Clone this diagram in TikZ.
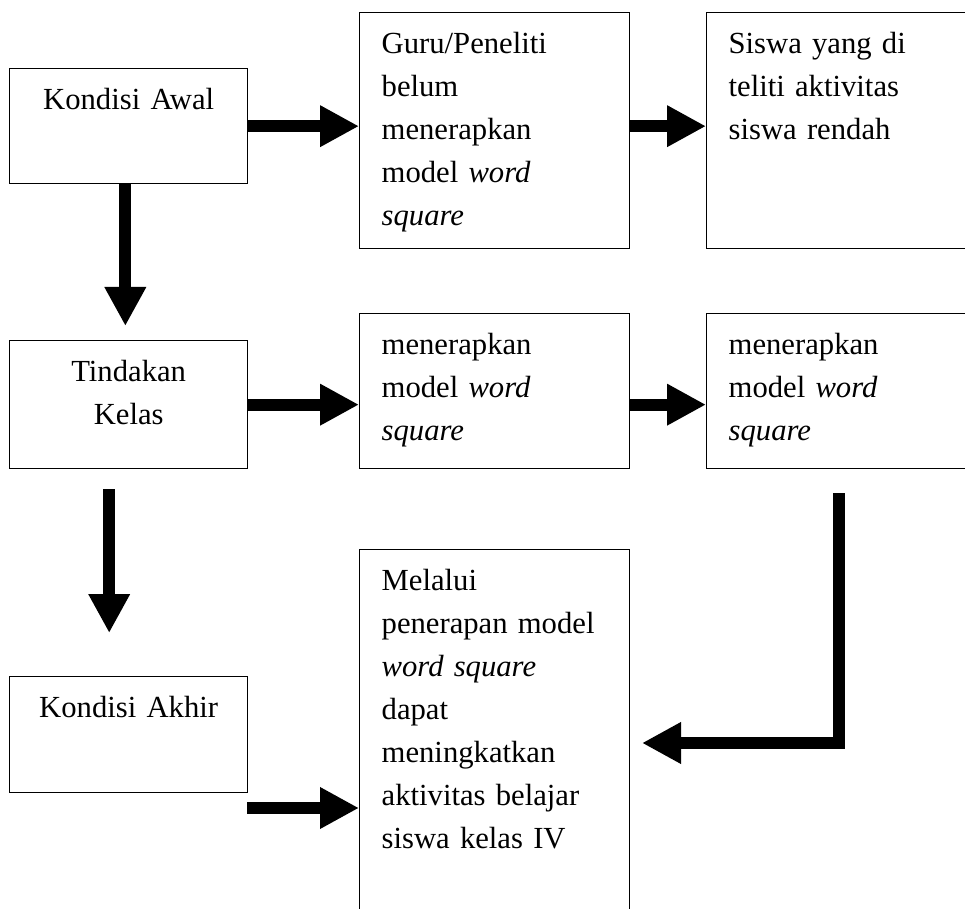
\documentclass[tikz,border=0pt]{standalone}
\usepackage{fontspec}
\setmainfont{Liberation Serif}
\usepackage{tikz}
\usetikzlibrary{arrows.meta}
\tikzset{box/.style = {draw, line width = 1pt, anchor = north west, inner xsep = 16.5pt, inner ysep = 0pt, text height = 30.75pt, font = \fontsize{23pt}{32.25pt}\selectfont}}
\tikzset{fat/.style = {line width = 9pt, -{Triangle[length = 29.25pt, width = 29.25pt]}}}

\begin{document}
\begin{tikzpicture}[x = 0.75pt, y = -0.75pt]
			\useasboundingbox (0, 0) rectangle (965, 909);

			\node[box, text width = 145.5pt, align = center, text depth = 55.5pt] (awal) at (9, 68) {Kondisi Awal};
			\node[box, text width = 169.5pt, align = left, text depth = 146.25pt] (guru) at (359, 12) {Guru/Peneliti\\belum\\menerapkan\\model \textit{word}\\\textit{square}};
			\node[box, text width = 165pt, align = left, text depth = 146.25pt] (siswa) at (706, 12) {Siswa yang di\\teliti aktivitas\\siswa rendah};
			\node[box, text width = 145.5pt, align = center, text depth = 65.25pt] (tindakan) at (9, 340) {Tindakan\\Kelas};
			\node[box, text width = 169.5pt, align = left, text depth = 85.5pt] (m1) at (359, 313) {menerapkan\\model \textit{word}\\\textit{square}};
			\node[box, text width = 165pt, align = left, text depth = 85.5pt] (m2) at (706, 313) {menerapkan\\model \textit{word}\\\textit{square}};
			\node[box, text width = 145.5pt, align = center, text depth = 56.25pt] (akhir) at (9, 676) {Kondisi Akhir};
			\node[box, text width = 169.5pt, align = left, text depth = 270pt] (hasil) at (359, 549) {Melalui\\penerapan model\\\textit{word square}\\dapat\\meningkatkan\\aktivitas belajar\\siswa kelas IV};

			\coordinate (k) at (247, 808);
			\coordinate (t) at (642, 743);

			\draw[fat] (awal.east) to (awal.east -| guru.west);
			\draw[fat] (awal.east -| guru.east) to (awal.east -| siswa.west);
			\draw[fat] ([xshift = -2.5pt]awal.south) to ([xshift = -2.5pt, yshift = 10.5pt]tindakan.north);
			\draw[fat] (tindakan.east) to (tindakan.east -| m1.west);
			\draw[fat] (tindakan.east -| m1.east) to (tindakan.east -| m2.west);
			\draw[fat] ([xshift = -14.6pt, yshift = -15pt]tindakan.south) to ([xshift = -14.6pt, yshift = 32.25pt]akhir.north);
			\draw[fat] (k) to (k -| hasil.west);
			\draw[fat] ([yshift = -18pt]m2.south) |- (t);
		\end{tikzpicture}
\end{document}
